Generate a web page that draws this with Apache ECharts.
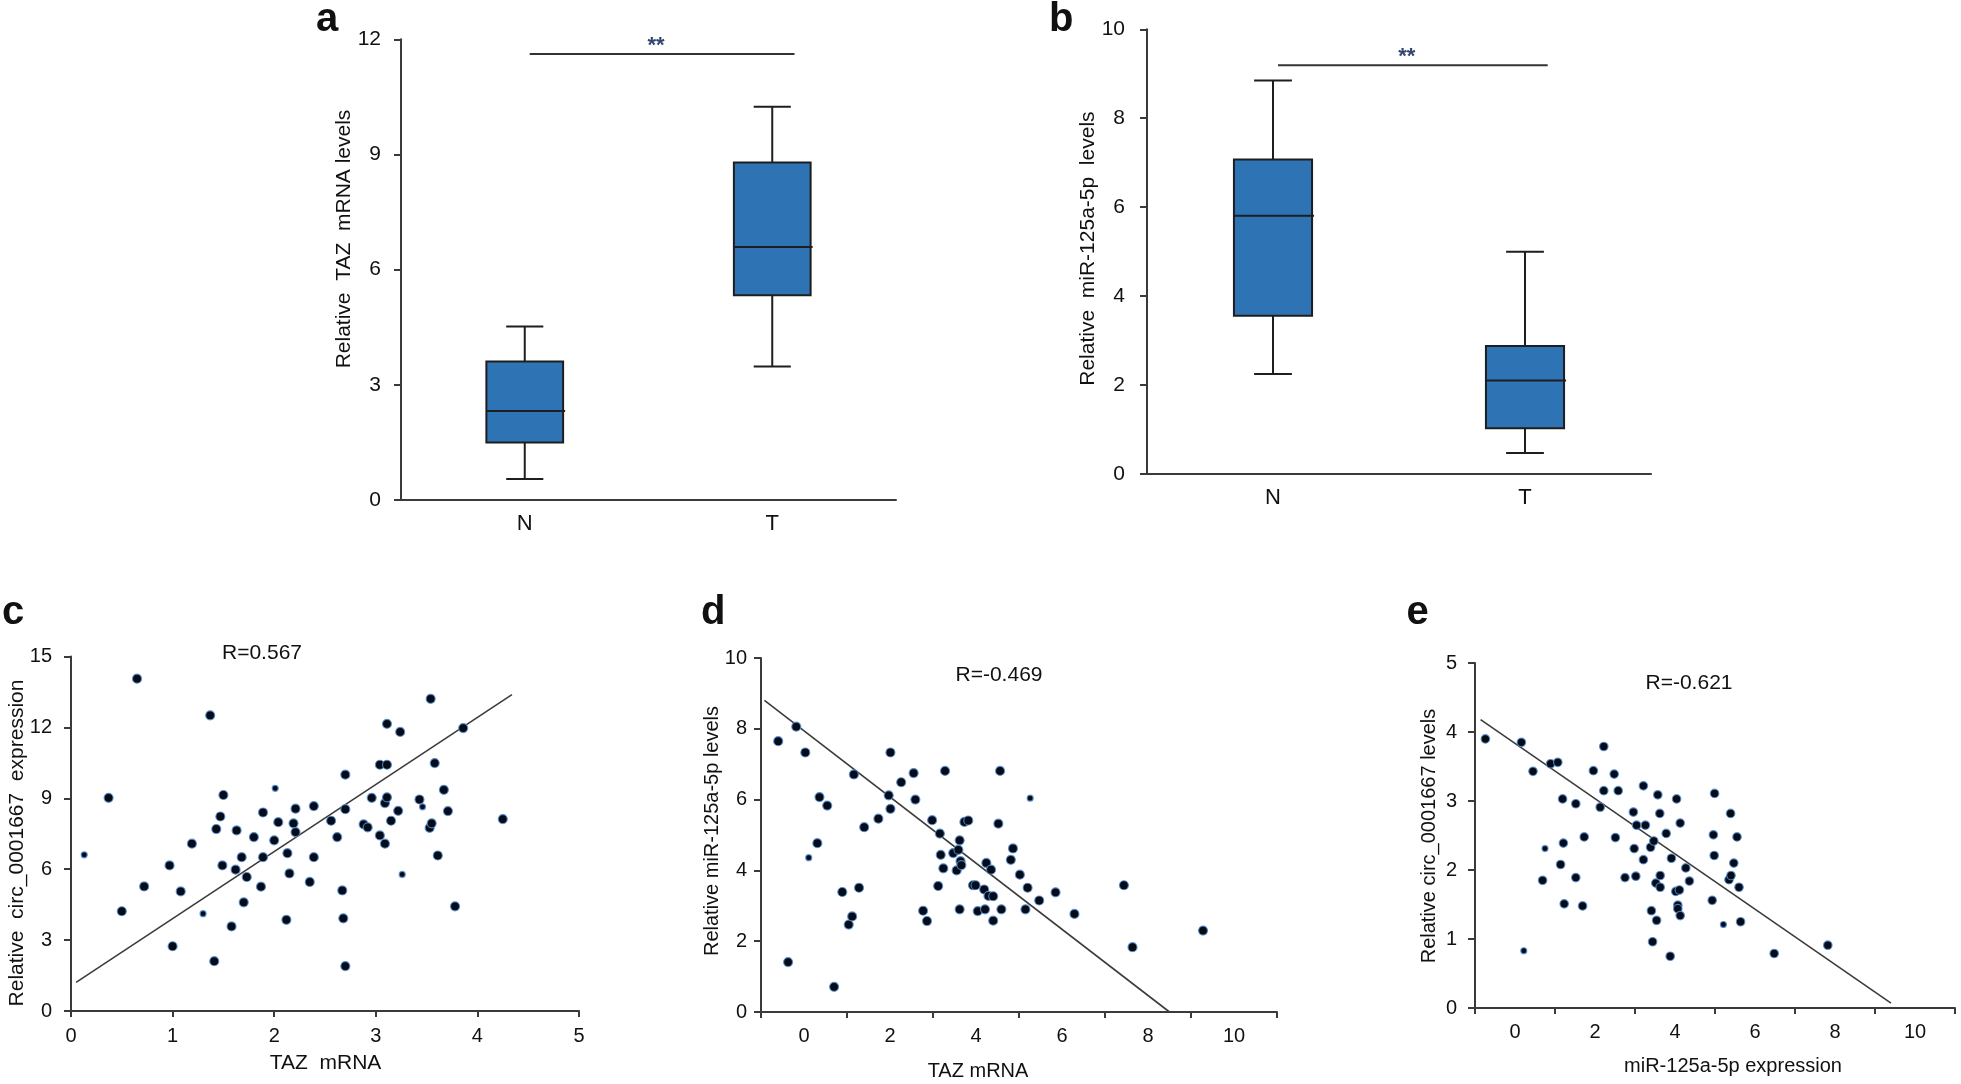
<!DOCTYPE html>
<html><head><meta charset="utf-8">
<script src="https://cdn.jsdelivr.net/npm/echarts@6/dist/echarts.min.js"></script>
<style>html,body{margin:0;padding:0;background:#fff}#chart{width:1961px;height:1084px}</style>
</head><body><div id="chart"></div>
<script>
// ================= DATA =================
const boxCategories = ['N', 'T'];
// box stats: [min, Q1, median, Q3, max]
const tazBoxN = [0.55, 1.50, 2.32, 3.61, 4.52];
const tazBoxT = [3.48, 5.33, 6.59, 8.79, 10.24];
const mirBoxN = [2.25, 3.56, 5.81, 7.07, 8.85];
const mirBoxT = [0.47, 1.03, 2.10, 2.88, 5.00];
const tazSigLevel = 11.62;
const mirSigLevel = 9.19;
const sigMark = '**';

// panel c: TAZ mRNA vs circ_0001667
const cPoints = [[0.37,9.02],[0.65,14.06],[0.50,4.22],[0.72,5.27],[0.97,6.16],[1.00,2.74],[1.08,5.06],[1.19,7.08],
 [1.37,12.51],[1.41,2.11],[1.43,7.70],[1.47,8.23],[1.50,9.14],[1.49,6.16],[1.58,3.58],[1.62,5.98],[1.63,7.64],
 [1.68,6.51],[1.70,4.60],[1.73,5.67],[1.80,7.36],[1.87,5.26],[1.89,8.40],[1.89,6.51],[2.00,7.22],[2.04,7.99],
 [2.12,3.86],[2.13,6.68],[2.15,5.82],[2.19,7.94],[2.21,7.57],[2.21,8.56],[2.35,5.46],[2.39,8.67],[2.39,6.51],
 [2.56,8.05],[2.62,7.36],[2.67,5.10],[2.68,3.92],[2.70,1.90],[2.70,10.00],[2.70,8.54],[2.88,7.90],[2.92,7.77],
 [2.96,9.02],[3.04,10.42],[3.04,7.43],[3.09,7.08],[3.09,8.80],[3.11,9.04],[3.11,12.15],[3.11,10.42],[3.15,8.05],
 [3.22,8.47],[3.24,11.81],[3.43,8.95],[3.53,7.75],[3.54,13.21],[3.55,7.94],[3.58,10.49],[3.61,6.58],[3.67,9.36],
 [3.71,8.46],[3.78,4.43],[3.86,11.97],[4.25,8.12]];
const cSmallPoints = [[0.13,6.61],[1.30,4.12],[2.01,9.42],[3.26,5.78],[3.46,8.64]];
const cFitX = [0.05, 4.34];
const cFitY = [1.21, 13.39];
const cR = 'R=0.567';

// panel d: TAZ mRNA vs miR-125a-5p
const dPoints = [[-0.60,7.65],[-0.18,8.06],[0.03,7.33],[-0.37,1.41],[0.31,4.77],[0.36,6.07],[0.54,5.83],[0.70,0.71],
 [0.89,3.39],[1.04,2.47],[1.12,2.70],[1.16,6.71],[1.28,3.51],[1.40,5.22],[1.73,5.46],[1.97,6.12],[2.01,7.33],
 [2.01,5.74],[2.26,6.49],[2.55,6.75],[2.59,6.00],[2.77,2.86],[2.86,2.57],[2.98,5.42],[3.12,3.56],[3.16,5.04],
 [3.18,4.44],[3.24,4.06],[3.28,6.81],[3.47,4.49],[3.55,4.00],[3.62,4.85],[3.59,4.58],[3.64,4.26],[3.66,4.15],
 [3.62,2.90],[3.73,5.37],[3.82,5.41],[3.93,3.58],[3.99,3.58],[4.04,2.85],[4.19,3.46],[4.24,4.21],[4.21,2.90],
 [4.29,3.28],[4.35,4.02],[4.40,3.27],[4.40,2.58],[4.52,5.32],[4.56,6.81],[4.59,2.90],[4.81,4.30],[4.86,4.62],
 [5.02,3.88],[5.15,2.90],[5.20,3.51],[5.47,3.15],[5.85,3.38],[6.29,2.77],[7.44,3.58],[7.64,1.83],[9.28,2.30]];
const dSmallPoints = [[0.11,4.36],[5.26,6.04]];
const dFitX = [-0.92, 8.50];
const dFitY = [8.80, 0.00];
const dR = 'R=-0.469';

// panel e: miR-125a-5p vs circ_0001667
const ePoints = [[-0.74,3.90],[0.16,3.85],[0.45,3.43],[0.69,1.85],[0.89,3.54],[1.07,3.56],[1.14,2.08],[1.19,3.03],
 [1.21,2.39],[1.23,1.51],[1.52,2.96],[1.52,1.89],[1.69,1.48],[1.73,2.48],[1.96,3.44],[2.13,2.91],[2.22,3.15],
 [2.22,3.79],[2.48,3.39],[2.51,2.47],[2.58,3.15],[2.75,1.89],[2.96,2.84],[2.98,2.31],[3.02,1.91],[3.04,2.65],
 [3.21,3.22],[3.21,2.15],[3.26,2.65],[3.41,1.41],[3.39,2.33],[3.44,0.96],[3.47,2.42],[3.52,1.81],[3.54,1.27],
 [3.57,3.09],[3.62,2.82],[3.63,1.92],[3.63,1.75],[3.78,2.53],[3.88,0.75],[3.91,2.17],[4.02,1.69],[4.04,3.03],
 [4.07,1.49],[4.07,1.44],[4.11,1.71],[4.13,2.68],[4.13,1.34],[4.27,2.03],[4.36,1.84],[4.93,1.56],[4.96,2.51],
 [4.98,2.21],[4.99,3.11],[5.35,1.86],[5.40,1.92],[5.39,2.82],[5.47,2.10],[5.55,2.48],[5.60,1.75],[5.64,1.25],
 [6.48,0.79],[7.82,0.91]];
const eSmallPoints = [[0.22,0.83],[0.75,2.31],[5.21,1.21]];
const eFitX = [-0.86, 9.40];
const eFitY = [4.18, 0.07];
const eR = 'R=-0.621';

// texts
const panelLetters = ['a', 'b', 'c', 'd', 'e'];
const aYTitle = 'Relative  TAZ  mRNA levels';
const bYTitle = 'Relative  miR-125a-5p  levels';
const cYTitle = 'Relative  circ_0001667  expression';
const cXTitle = 'TAZ  mRNA';
const dYTitle = 'Relative miR-125a-5p levels';
const dXTitle = 'TAZ mRNA';
const eYTitle = 'Relative circ_0001667 levels';
const eXTitle = 'miR-125a-5p expression';

// ================= CHART =================
const FONT = "'Liberation Sans', Arial, Helvetica, sans-serif";
const AXC = '#3a3a3a';
const BOXFILL = '#2e74b5';
const DOT = '#060b16';

const chart = echarts.init(document.getElementById('chart'), null, {renderer: 'canvas'});

function boxRender(params, api) {
  const cat = api.value(0);
  const vals = [api.value(1), api.value(2), api.value(3), api.value(4), api.value(5)];
  const band = api.size([1, 0])[0];
  const bw = band * 0.31, cw = band * 0.15;
  const p = vals.map(v => api.coord([cat, v]));
  const cx = p[0][0];
  const ls = {stroke: '#1e1e1e', lineWidth: 2};
  return {type: 'group', children: [
    {type: 'line', shape: {x1: cx, y1: p[4][1], x2: cx, y2: p[3][1]}, style: ls},
    {type: 'line', shape: {x1: cx, y1: p[1][1], x2: cx, y2: p[0][1]}, style: ls},
    {type: 'line', shape: {x1: cx - cw/2, y1: p[4][1], x2: cx + cw/2, y2: p[4][1]}, style: ls},
    {type: 'line', shape: {x1: cx - cw/2, y1: p[0][1], x2: cx + cw/2, y2: p[0][1]}, style: ls},
    {type: 'rect', shape: {x: cx - bw/2, y: p[3][1], width: bw, height: p[1][1] - p[3][1]},
      style: {fill: BOXFILL, stroke: '#1e1e1e', lineWidth: 2}},
    {type: 'line', shape: {x1: cx - bw/2, y1: p[2][1], x2: cx + bw/2 + 2, y2: p[2][1]}, style: ls}
  ]};
}
function sigRender(params, api) {
  const lvl = api.value(2);
  const p0 = api.coord([api.value(0), lvl]);
  const p1 = api.coord([api.value(1), lvl]);
  const band = api.size([1, 0])[0];
  const x0 = p0[0] + band * 0.02, x1 = p1[0] + band * 0.09;
  return {type: 'group', children: [
    {type: 'line', shape: {x1: x0, y1: p0[1], x2: x1, y2: p0[1]}, style: {stroke: '#333', lineWidth: 2}},
    {type: 'text', x: (x0 + x1) / 2 - 6, y: p0[1] - 8,
      style: {text: sigMark, font: 'bold 22px ' + FONT, fill: '#34466f', align: 'center', verticalAlign: 'middle',
        textAlign: 'center', textVerticalAlign: 'middle'}}
  ]};
}

function catAxis(grid) {
  return {type: 'category', gridIndex: grid, data: boxCategories, boundaryGap: true,
    axisLine: {onZero: false, lineStyle: {color: AXC, width: 2}},
    axisTick: {alignWithLabel: true, length: 6, lineStyle: {color: AXC, width: 2}},
    axisLabel: {color: '#111', fontSize: 22, fontFamily: FONT, margin: 13},
    splitLine: {show: false}};
}
function valAxis(grid, min, max, interval, fs, margin, extra) {
  return Object.assign({type: 'value', gridIndex: grid, min: min, max: max, interval: interval,
    axisLine: {show: true, onZero: false, lineStyle: {color: AXC, width: 2}},
    axisTick: {show: true, length: 7, lineStyle: {color: AXC, width: 2}},
    axisLabel: {color: '#111', fontSize: fs, fontFamily: FONT, margin: margin},
    splitLine: {show: false}}, extra || {});
}
function evenLabelAxis(grid) {
  return valAxis(grid, -1, 11, 1, 20, 14, {
    axisTick: {show: false},
    axisLabel: {color: '#111', fontSize: 20, fontFamily: FONT, margin: 14,
      formatter: v => (Math.round(v) % 2 === 0 ? String(v) : '')}
  });
}
function oddTickAxis(grid) {
  return {type: 'value', gridIndex: grid, position: 'bottom', min: -1, max: 11, interval: 2,
    axisLine: {show: false, onZero: false}, axisLabel: {show: false}, splitLine: {show: false},
    axisTick: {show: true, length: 6, lineStyle: {color: AXC, width: 2}}};
}

function txt(x, y, text, size, opts) {
  const o = opts || {};
  return {type: 'text', x: x, y: y, rotation: o.rot || 0, silent: true,
    style: {text: text, font: (o.bold ? 'bold ' : '') + size + 'px ' + FONT, fill: '#111',
      align: o.align || 'center', verticalAlign: 'middle',
      textAlign: o.align || 'center', textVerticalAlign: 'middle'}};
}
const R90 = Math.PI / 2;

function scatterSeries(xi, yi, pts, size) {
  return {type: 'scatter', xAxisIndex: xi, yAxisIndex: yi, data: pts, symbolSize: size,
    itemStyle: {color: DOT, borderColor: 'rgba(80,140,210,0.85)', borderWidth: 1.2, opacity: 1}};
}
function fitSeries(xi, yi, fx, fy) {
  return {type: 'line', xAxisIndex: xi, yAxisIndex: yi, data: fx.map((x, i) => [x, fy[i]]),
    symbol: 'none', lineStyle: {color: '#3c3c3c', width: 1.6}, z: 1};
}

const option = {
  backgroundColor: '#fff',
  animation: false,
  grid: [
    {left: 401, top: 39.3, width: 495, height: 460.7, outerBoundsMode: 'none'},
    {left: 1147, top: 29.3, width: 504, height: 444.7, outerBoundsMode: 'none'},
    {left: 71, top: 656.5, width: 508, height: 354.5, outerBoundsMode: 'none'},
    {left: 761, top: 658, width: 516, height: 354, outerBoundsMode: 'none'},
    {left: 1475, top: 663, width: 480, height: 345, outerBoundsMode: 'none'}
  ],
  xAxis: [
    catAxis(0),
    catAxis(1),
    valAxis(2, 0, 5, 1, 20, 15, {axisTick: {show: true, length: 6, lineStyle: {color: AXC, width: 2}}}),
    evenLabelAxis(3),
    oddTickAxis(3),
    evenLabelAxis(4),
    oddTickAxis(4)
  ],
  yAxis: [
    valAxis(0, 0, 12, 3, 21, 20),
    valAxis(1, 0, 10, 2, 21, 22),
    valAxis(2, 0, 15, 3, 20, 19),
    valAxis(3, 0, 10, 2, 20, 14),
    valAxis(4, 0, 5, 1, 20, 18)
  ],
  series: [
    {type: 'custom', xAxisIndex: 0, yAxisIndex: 0, renderItem: boxRender, clip: false,
      encode: {x: 0, y: [1, 2, 3, 4, 5]},
      data: [[0].concat(tazBoxN), [1].concat(tazBoxT)]},
    {type: 'custom', xAxisIndex: 0, yAxisIndex: 0, renderItem: sigRender, clip: false,
      encode: {x: [0, 1], y: 2}, data: [[0, 1, tazSigLevel]]},
    {type: 'custom', xAxisIndex: 1, yAxisIndex: 1, renderItem: boxRender, clip: false,
      encode: {x: 0, y: [1, 2, 3, 4, 5]},
      data: [[0].concat(mirBoxN), [1].concat(mirBoxT)]},
    {type: 'custom', xAxisIndex: 1, yAxisIndex: 1, renderItem: sigRender, clip: false,
      encode: {x: [0, 1], y: 2}, data: [[0, 1, mirSigLevel]]},
    fitSeries(2, 2, cFitX, cFitY),
    scatterSeries(2, 2, cPoints, 9),
    scatterSeries(2, 2, cSmallPoints, 6),
    fitSeries(3, 3, dFitX, dFitY),
    scatterSeries(3, 3, dPoints, 9),
    scatterSeries(3, 3, dSmallPoints, 6),
    fitSeries(5, 4, eFitX, eFitY),
    scatterSeries(5, 4, ePoints, 8.5),
    scatterSeries(5, 4, eSmallPoints, 6)
  ],
  graphic: [
    txt(316, 20.3, panelLetters[0], 40, {bold: true, align: 'left'}),
    txt(1049, 20.3, panelLetters[1], 40, {bold: true, align: 'left'}),
    txt(2, 613, panelLetters[2], 40, {bold: true, align: 'left'}),
    txt(701, 613, panelLetters[3], 40, {bold: true, align: 'left'}),
    txt(1406.5, 613, panelLetters[4], 40, {bold: true, align: 'left'}),
    txt(344, 239, aYTitle, 21, {rot: R90}),
    txt(1088.5, 248.6, bYTitle, 21, {rot: R90}),
    txt(17.4, 843, cYTitle, 21, {rot: R90}),
    txt(712, 831, dYTitle, 20, {rot: R90}),
    txt(1429, 836, eYTitle, 20, {rot: R90}),
    txt(325.5, 1063.3, cXTitle, 21),
    txt(978, 1071.7, dXTitle, 20),
    txt(1733, 1066.7, eXTitle, 20),
    txt(262, 653.3, cR, 21),
    txt(999, 675, dR, 21),
    txt(1689, 683, eR, 21)
  ]
};
chart.setOption(option);
</script></body></html>
